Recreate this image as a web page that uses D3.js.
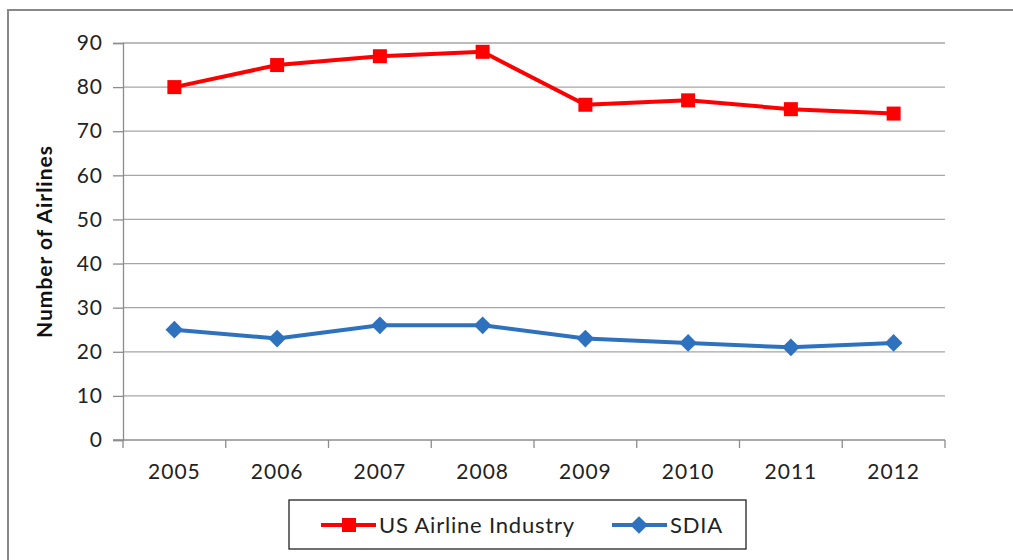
<!DOCTYPE html>
<html>
<head>
<meta charset="utf-8">
<script src="https://cdn.jsdelivr.net/npm/d3@7"></script>
<style>
  body { margin: 0; background: #fff; }
  svg { display: block; font-family: Lato, "Open Sans", sans-serif; }
</style>
</head>
<body>
<div id="chart"></div>
<script>
var years = ["2005", "2006", "2007", "2008", "2009", "2010", "2011", "2012"];
var usAirline = [80, 85, 87, 88, 76, 77, 75, 74];
var sdia = [25, 23, 26, 26, 23, 22, 21, 22];
var yTicks = [0, 10, 20, 30, 40, 50, 60, 70, 80, 90];

var W = 1013, H = 560;
var margin = {top: 43, right: 68, bottom: 120, left: 123};

var svg = d3.select("#chart").append("svg")
    .attr("width", W)
    .attr("height", H);

// outer frame (runs off the right/bottom edge like the screenshot)
svg.append("rect")
    .attr("x", 8).attr("y", 10)
    .attr("width", W + 20).attr("height", H + 20)
    .attr("fill", "#fff")
    .attr("stroke", "#888")
    .attr("stroke-width", 2);

var width = W - margin.left - margin.right,
    height = H - margin.top - margin.bottom;

var g = svg.append("g")
    .attr("transform", "translate(" + margin.left + "," + margin.top + ")");

var x = d3.scaleBand().domain(years).range([0, width]);
var y = d3.scaleLinear().domain([0, 90]).range([height, 0]);

// gridlines
g.selectAll(".grid")
  .data(yTicks.slice(1))
  .enter().append("line")
    .attr("x1", 0).attr("x2", width)
    .attr("y1", function(d) { return y(d); })
    .attr("y2", function(d) { return y(d); })
    .attr("stroke", "#a6a6a6")
    .attr("stroke-width", 1.3);

// y axis
var yAxis = g.append("g")
    .call(d3.axisLeft(y).tickValues(yTicks).tickSize(10).tickPadding(10));
yAxis.select(".domain").attr("stroke", "#8c8c8c").attr("stroke-width", 1.3);
yAxis.selectAll(".tick line").attr("stroke", "#8c8c8c").attr("stroke-width", 1.3);
yAxis.selectAll("text").attr("font-size", 21).attr("fill", "#222")
    .attr("letter-spacing", 1)
    .attr("font-family", "Lato, sans-serif");

// x axis with ticks at band boundaries
var xAxis = g.append("g")
    .attr("transform", "translate(0," + height + ")")
    .call(d3.axisBottom(x).tickSize(0).tickPadding(24));
xAxis.select(".domain").remove();
xAxis.append("line")
    .attr("x1", -10).attr("x2", width)
    .attr("stroke", "#8c8c8c").attr("stroke-width", 1.3);
xAxis.selectAll(".bnd")
  .data(d3.range(years.length + 1))
  .enter().append("line")
    .attr("x1", function(i) { return i * x.step(); })
    .attr("x2", function(i) { return i * x.step(); })
    .attr("y1", 0).attr("y2", 8)
    .attr("stroke", "#8c8c8c").attr("stroke-width", 1.3);
xAxis.selectAll("text").attr("font-size", 21).attr("fill", "#222")
    .attr("letter-spacing", 1)
    .attr("font-family", "Lato, sans-serif");

// y title
svg.append("text")
    .attr("transform", "translate(52," + (margin.top + height / 2) + ") rotate(-90)")
    .attr("text-anchor", "middle")
    .attr("font-size", 21)
    .attr("font-weight", "bold")
    .attr("letter-spacing", 1)
    .attr("fill", "#111")
    .text("Number of Airlines");

var cx = function(i) { return x(years[i]) + x.bandwidth() / 2; };

var line = d3.line()
    .x(function(d, i) { return cx(i); })
    .y(function(d) { return y(d); });

var red = "#ff0000", blue = "#2e72bf";

// US Airline Industry
g.append("path").datum(usAirline)
    .attr("d", line).attr("fill", "none")
    .attr("stroke", red).attr("stroke-width", 4).attr("stroke-linejoin", "round");
g.selectAll(".sq").data(usAirline).enter().append("rect")
    .attr("x", function(d, i) { return cx(i) - 7; })
    .attr("y", function(d) { return y(d) - 7; })
    .attr("width", 14).attr("height", 14)
    .attr("fill", red);

// SDIA
g.append("path").datum(sdia)
    .attr("d", line).attr("fill", "none")
    .attr("stroke", blue).attr("stroke-width", 4).attr("stroke-linejoin", "round");
var diamond = d3.symbol().type(d3.symbolDiamond2).size(200);
g.selectAll(".dm").data(sdia).enter().append("path")
    .attr("d", diamond)
    .attr("transform", function(d, i) { return "translate(" + cx(i) + "," + y(d) + ")"; })
    .attr("fill", blue);

// legend
var lg = svg.append("g").attr("transform", "translate(289,500)");
lg.append("rect")
    .attr("width", 457).attr("height", 49)
    .attr("fill", "#fff").attr("stroke", "#222").attr("stroke-width", 1.3);

var items = [
  {name: "US Airline Industry", color: red, x: 32, type: "sq"},
  {name: "SDIA", color: blue, x: 323, type: "dm"}
];
items.forEach(function(it) {
  var ig = lg.append("g").attr("transform", "translate(" + it.x + ",25)");
  ig.append("line").attr("x1", 0).attr("x2", 55)
    .attr("stroke", it.color).attr("stroke-width", 4);
  if (it.type === "sq") {
    ig.append("rect").attr("x", 21).attr("y", -7).attr("width", 14).attr("height", 14)
      .attr("fill", it.color);
  } else {
    ig.append("path").attr("d", diamond).attr("transform", "translate(27,0)")
      .attr("fill", it.color);
  }
  ig.append("text").attr("x", 58).attr("y", 8)
    .attr("font-size", 22).attr("letter-spacing", 0.8).attr("fill", "#222")
    .text(it.name);
});
</script>
</body>
</html>
